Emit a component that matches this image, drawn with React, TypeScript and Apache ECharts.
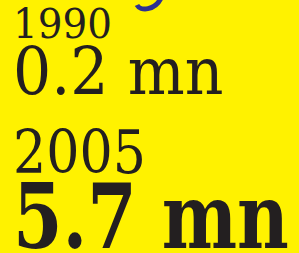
import React, { useEffect, useRef } from "react";
import * as echarts from "echarts";

const years: string[] = ["1990", "2005"];
const values: number[] = [0.2, 5.7];
const unit = "mn";

const BG = "#FFF200";
const INK = "#231F20";
const BLUE = "#2E3192";
const SERIF = "'DejaVu Serif', serif";

export default function App() {
  const ref = useRef<HTMLDivElement>(null);
  useEffect(() => {
    if (!ref.current) return;
    const chart = echarts.init(ref.current, undefined, { renderer: "svg" });
    const txt = (
      text: string,
      x: number,
      y: number,
      fs: number,
      sx: number,
      weight: string,
      lh: number
    ) => ({
      type: "text",
      x,
      y,
      scaleX: sx,
      style: {
        text,
        fontFamily: SERIF,
        fontSize: fs,
        fontWeight: weight,
        lineHeight: lh,
        fill: INK,
        align: "left",
        verticalAlign: "middle",
      },
    });
    chart.setOption({
      animation: false,
      backgroundColor: BG,
      graphic: [
        {
          type: "bezierCurve",
          shape: { x1: 137, y1: 5, cpx1: 140, cpy1: 11, cpx2: 155, cpy2: 11, x2: 161, y2: -2 },
          style: { stroke: BLUE, lineWidth: 5, fill: null },
        },
        txt(years[0], 13, 24, 41, 0.95, "normal", 34),
        txt(`${values[0]} ${unit}`, 13, 71.5, 65, 0.925, "normal", 50),
        txt(years[1], 13, 152.6, 59, 0.885, "normal", 46),
        txt(`${values[1]} ${unit}`, 13, 216.7, 89, 0.8, "bold", 66),
      ],
    });
    return () => chart.dispose();
  }, []);
  return (
    <div
      ref={ref}
      style={{ position: "absolute", left: 0, top: 0, width: 299, height: 253 }}
    />
  );
}
